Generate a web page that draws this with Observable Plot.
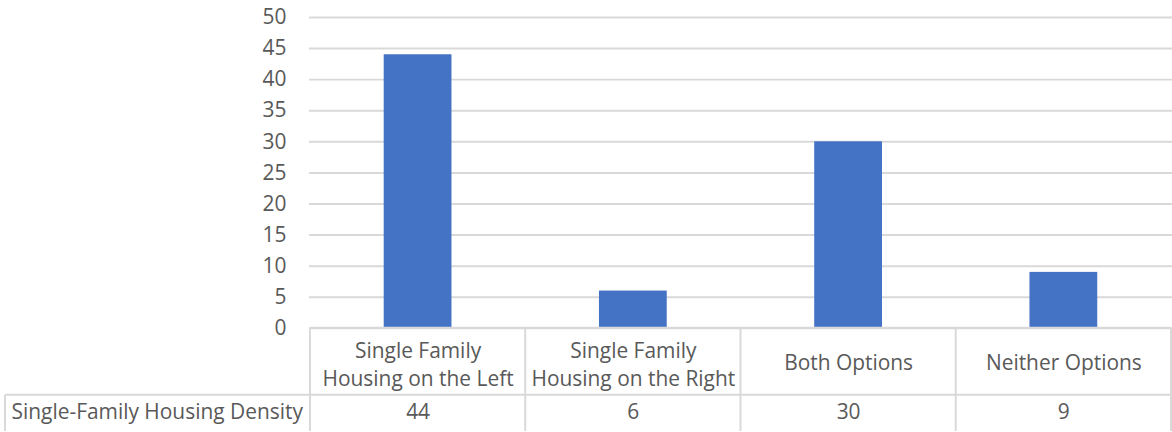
<!DOCTYPE html>
<html>
<head>
<meta charset="utf-8">
<script src="https://cdn.jsdelivr.net/npm/d3@7"></script>
<script src="https://cdn.jsdelivr.net/npm/@observablehq/plot@0.6"></script>
<style>
  html, body { margin: 0; padding: 0; background: #fff; overflow: hidden; }
  #chart { width: 1172px; height: 432px; overflow: hidden; }
  svg { font-family: "Open Sans", Lato, sans-serif; }
</style>
</head>
<body>
<div id="chart"></div>
<script>
const categories = ["Single Family Housing on the Left", "Single Family Housing on the Right", "Both Options", "Neither Options"];
const categoryLines = [["Single Family", "Housing on the Left"], ["Single Family", "Housing on the Right"], ["Both Options"], ["Neither Options"]];
const seriesName = "Single-Family Housing Density";
const values = [44, 6, 30, 9];
const yTicks = [0, 5, 10, 15, 20, 25, 30, 35, 40, 45, 50];

const data = categories.map((c, i) => ({category: c, value: values[i], lines: categoryLines[i]}));
const firstLines = data.filter(d => d.lines.length === 2).map(d => ({category: d.category, text: d.lines[0]}));
const secondLines = data.filter(d => d.lines.length === 2).map(d => ({category: d.category, text: d.lines[1]}));
const singleLines = data.filter(d => d.lines.length === 1).map(d => ({category: d.category, text: d.lines[0]}));

const textColor = "#595959";
const gridColor = "#d9d9d9";
const fontSize = 21;

// Data-table grid drawn from the band scale
function tableGrid(index, scales, values, dims) {
  const x = scales.x;
  const y = scales.y;
  const bw = scales.scales.x.bandwidth;
  const y0 = y(0);
  const rowSep = y0 + 67;
  const bottom = dims.height + 5;
  const g = d3.create("svg:g").attr("stroke", gridColor).attr("stroke-width", 2).attr("fill", "none");
  const xs = categories.map(c => x(c));
  xs.push(xs[xs.length - 1] + bw);
  xs.forEach(px => g.append("line").attr("x1", px).attr("x2", px).attr("y1", y0).attr("y2", bottom));
  g.append("line").attr("x1", xs[0]).attr("x2", xs[xs.length - 1]).attr("y1", y0).attr("y2", y0);
  g.append("line").attr("x1", 5).attr("x2", xs[xs.length - 1]).attr("y1", rowSep).attr("y2", rowSep);
  g.append("line").attr("x1", 5).attr("x2", 5).attr("y1", rowSep).attr("y2", bottom);
  return g.node();
}

const zero = () => 0;
const chart = Plot.plot({
  width: 1176,
  height: 432,
  marginLeft: 310,
  marginRight: 0,
  marginTop: 17,
  marginBottom: 103,
  style: {fontSize: fontSize + "px", color: textColor, background: "#fff"},
  x: {domain: categories, padding: 0, axis: null},
  y: {domain: [0, 50], ticks: yTicks, label: null},
  marks: [
    Plot.gridY(yTicks, {stroke: gridColor, strokeOpacity: 1, strokeWidth: 2}),
    Plot.axisY(yTicks, {tickSize: 0, tickPadding: 23, label: null, fill: textColor, fontSize: fontSize}),
    Plot.barY(data, {x: "category", y: "value", fill: "#4472C4", insetLeft: 74, insetRight: 74}),
    tableGrid,
    Plot.text(firstLines, {x: "category", y: zero, text: "text", fill: textColor, fontSize: fontSize, dy: 23}),
    Plot.text(secondLines, {x: "category", y: zero, text: "text", fill: textColor, fontSize: fontSize, dy: 51}),
    Plot.text(singleLines, {x: "category", y: zero, text: "text", fill: textColor, fontSize: fontSize, dy: 35}),
    Plot.text(data, {x: "category", y: zero, text: d => String(d.value), fill: textColor, fontSize: fontSize, dy: 84}),
    Plot.text([seriesName], {x: () => categories[0], y: zero, text: d => d, fill: textColor, fontSize: fontSize, textAnchor: "start", dx: -408, dy: 84})
  ]
});
document.getElementById("chart").appendChild(chart);
</script>
</body>
</html>
